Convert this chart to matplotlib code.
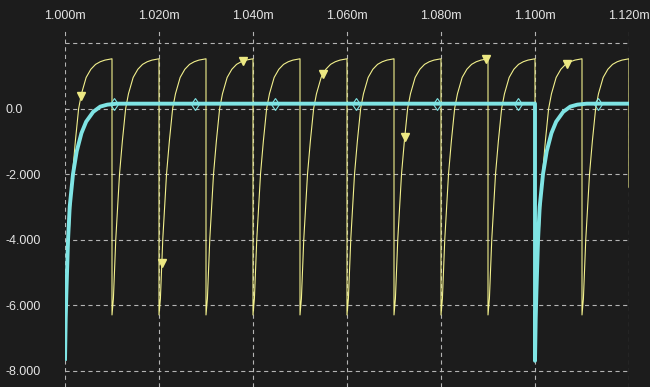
import numpy as np
import matplotlib
matplotlib.use('Agg')
import matplotlib.pyplot as plt

plt.rcParams['font.family'] = ['Liberation Sans', 'DejaVu Sans']
plt.rcParams['lines.scale_dashes'] = False

# yellow trace: a charging cycle that restarts every 10 us (times in ms)
cycle_starts = [1.000, 1.010, 1.020, 1.030, 1.040, 1.050,
                1.060, 1.070, 1.080, 1.090, 1.100, 1.110]
cycle_offset_us = [0.0, 0.3, 0.8, 1.2, 1.6, 2.2, 2.9, 3.5,
                   4.5, 5.5, 6.5, 7.5, 8.5, 10.0]
cycle_volts = [-6.3, -5.8, -4.0, -3.0, -2.0, -1.0, 0.0, 0.45,
               0.95, 1.2, 1.35, 1.43, 1.48, 1.52]
yellow_end = (1.120, -2.4)
yellow_marker_t = [1.0034, 1.0206, 1.0379, 1.0549, 1.0723, 1.0896, 1.1068]

# cyan trace: settles to a flat level after each pulse
pulse_starts = [1.000, 1.100]
pulse_offset_us = [0.0, 0.15, 0.3, 0.65, 1.0, 1.7, 2.5, 3.5, 4.5, 6.0, 7.5, 9.0, 11.0]
pulse_volts = [-7.7, -6.4, -5.6, -4.0, -3.0, -2.0, -1.3, -0.75, -0.4, -0.1, 0.06, 0.12, 0.15]
cyan_end = (1.120, 0.15)
cyan_marker_t = [1.0104, 1.0277, 1.0447, 1.0619, 1.0791, 1.0964, 1.1134]

x_ticks = [1.000, 1.020, 1.040, 1.060, 1.080, 1.100, 1.120]
x_labels = ['1.000m', '1.020m', '1.040m', '1.060m', '1.080m', '1.100m', '1.120m']
y_ticks = [2, 0, -2, -4, -6, -8]
y_labels = ['', '0.0', '-2.000', '-4.000', '-6.000', '-8.000']

# build the traces from the read-off pieces
yt, yv = [], []
for s in cycle_starts:
    yt += [s + o / 1000 for o in cycle_offset_us]
    yv += cycle_volts
yt.append(yellow_end[0])
yv.append(yellow_end[1])

ct, cv = [], []
for i, s in enumerate(pulse_starts):
    ct += [s + o / 1000 for o in pulse_offset_us]
    cv += pulse_volts
    if i + 1 < len(pulse_starts):
        # flat until the next pulse
        ct.append(pulse_starts[i + 1])
        cv.append(pulse_volts[-1])
ct.append(cyan_end[0])
cv.append(cyan_end[1])

bg = '#1c1c1c'
fig = plt.figure(figsize=(6.5, 3.87), dpi=100, facecolor=bg)
ax = fig.add_axes([65 / 650, 0, 564 / 650, 359 / 387])
ax.set_facecolor(bg)

ax.plot(yt, yv, color='#f2f08c', lw=0.8, zorder=3)
ax.plot(yellow_marker_t, np.interp(yellow_marker_t, yt, yv), ls='none',
        marker='v', ms=6, color='#ece882', zorder=4)

ax.plot(ct, cv, color='#7fe4e4', lw=2.8, zorder=5, solid_capstyle='butt')
ax.plot(cyan_marker_t, np.interp(cyan_marker_t, ct, cv), ls='none',
        marker='d', ms=6, mfc='none', mec='#7fe4e4', mew=0.8, zorder=6)

ax.set_xlim(1.000, 1.120)
ax.set_ylim(-8.50, 2.46)
ax.set_xticks(x_ticks)
ax.set_xticklabels(x_labels)
ax.set_yticks(y_ticks)
ax.set_yticklabels(y_labels)
ax.xaxis.tick_top()
ax.tick_params(axis='both', length=0, colors='#e4e4e4', labelsize=9)
ax.tick_params(axis='x', pad=4)
ax.tick_params(axis='y', pad=43)
for lab in ax.get_yticklabels():
    lab.set_horizontalalignment('left')
ax.grid(True, color='#b4b4b4', lw=0.8, ls=(0, (3, 2.5)))
for sp in ax.spines.values():
    sp.set_visible(False)

fig.savefig('out.png', dpi=100, facecolor=bg)
